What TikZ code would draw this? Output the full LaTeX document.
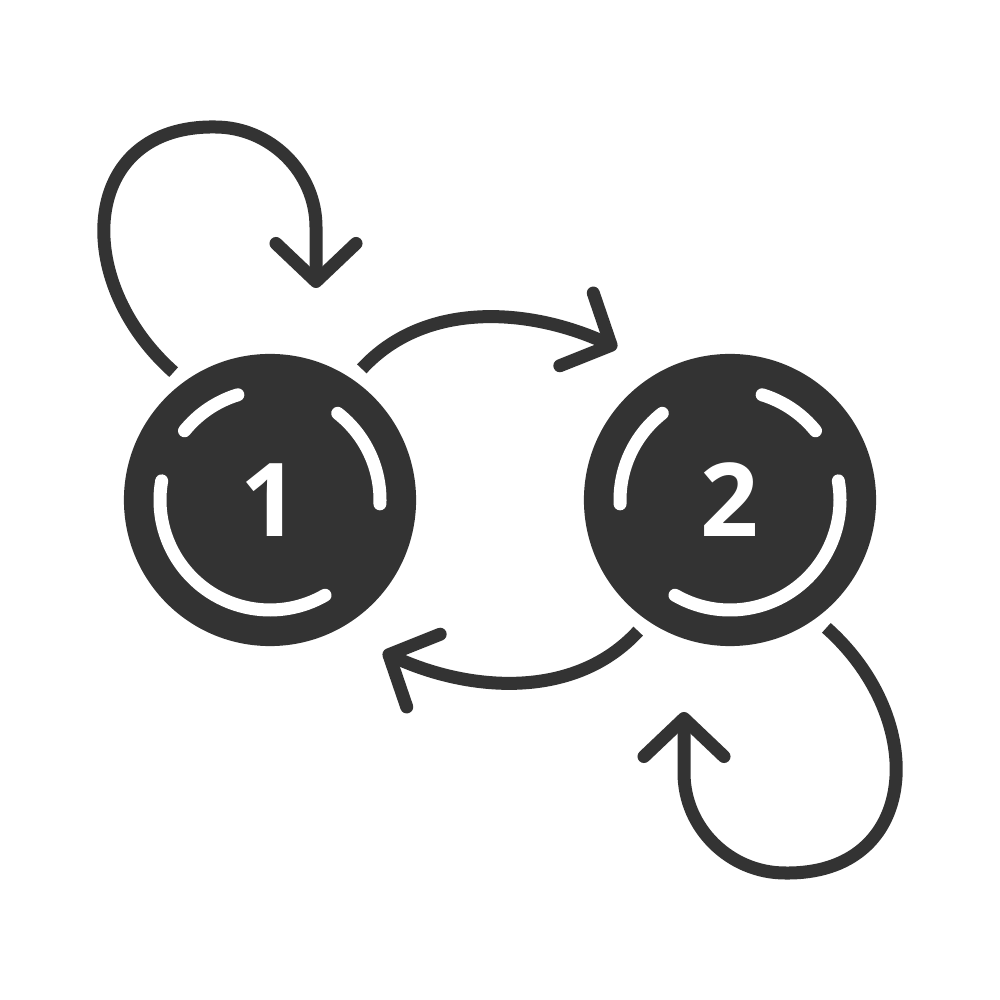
\documentclass[tikz,border=0pt]{standalone}
\usepackage{fontspec}
\setmainfont{Open Sans}
\usetikzlibrary{arrows.meta}
\definecolor{dark}{HTML}{333333}
\tikzset{
  state/.style={circle, fill=dark, minimum size=2.92cm, inner sep=0pt, outer sep=0.14cm,
    text=white, font=\fontsize{29}{29}\selectfont\bfseries},
  link/.style={draw=dark, line width=0.13cm, -{Straight Barb[length=0.38cm, width=0.8cm, round]}},
  ring/.style={draw=white, line width=0.13cm, line cap=round}
}
\begin{document}
\begin{tikzpicture}[x=0.01cm, y=0.01cm]
\useasboundingbox (0,0) rectangle (1000,1000);

\node[state] (one) at (270,500) {1};
\node[state] (two) at (730,500) {2};

\foreach \a/\b in {170/300, 107/141, -2/52}
  \draw[ring] ([shift={(\a:110)}]one.center) arc[start angle=\a, end angle=\b, radius=110];
\foreach \a/\b in {240/370, 39/73, 128/182}
  \draw[ring] ([shift={(\a:110)}]two.center) arc[start angle=\a, end angle=\b, radius=110];

\coordinate (loopone) at (316,712);
\coordinate (onetwo) at (617,652);
\coordinate (twoone) at (383,348);
\coordinate (looptwo) at (684,288);

\draw[link] (one.127) .. controls (70,720) and (80,875) .. (215,873)
  .. controls (270,873) and (316,828) .. (316,773) -- (loopone);
\draw[link] (one.55) .. controls (425,700) and (530,692) .. (onetwo);
\draw[link] (two.235) .. controls (575,300) and (470,308) .. (twoone);
\draw[link] (two.307) .. controls (930,280) and (920,125) .. (785,127)
  .. controls (730,127) and (684,172) .. (684,227) -- (looptwo);

\end{tikzpicture}
\end{document}
